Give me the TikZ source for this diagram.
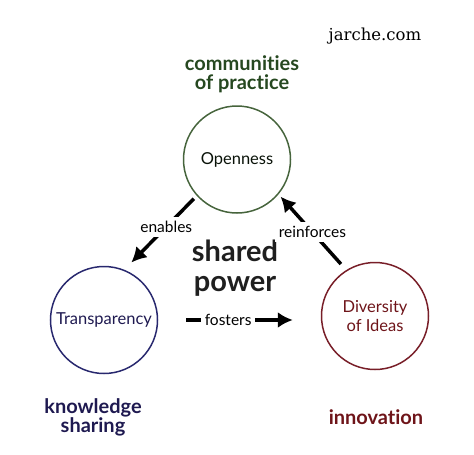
\documentclass[tikz,border=0pt]{standalone}
\usepackage{fontspec}
\setmainfont{Lato}[Ligatures={NoCommon}]
\newfontfamily\webfont{DejaVu Serif}
\usetikzlibrary{arrows.meta}
\definecolor{cpgreen}{RGB}{38,72,32}
\definecolor{ksnavy}{RGB}{30,25,80}
\definecolor{invred}{RGB}{110,20,25}
\definecolor{ringgreen}{RGB}{70,100,60}
\definecolor{ringnavy}{RGB}{40,40,110}
\definecolor{ringred}{RGB}{120,30,40}
\tikzset{
  ring/.style={circle, draw, line width=1.5pt, minimum size=107pt, inner sep=0pt, align=center, font=\fontsize{16.5}{19}\selectfont},
  tag/.style={align=center, font=\fontsize{20}{19}\bfseries\selectfont},
  push/.style={line width=3.5pt, -{Latex[length=15pt,width=16pt]}},
  verb/.style={fill=white, inner sep=4pt, font=\fontsize{15.5}{17}\selectfont, text=black}
}
\begin{document}
\begin{tikzpicture}[x=1pt,y=-1pt]
    \useasboundingbox (0,0) rectangle (474,455);
    \node[ring, draw=ringgreen, text=black!75!cpgreen] (op) at (237,159.5) {Openness};
    \node[ring, draw=ringnavy, text=ksnavy] (tr) at (104,320) {Transparency};
    \node[ring, draw=ringred, text=invred] (dv) at (375,316) {Diversity\\of Ideas};
    \node[tag, text=cpgreen] (cop) at (242,74) {communities\\of practice};
    \node[tag, text=ksnavy] (ks) at (93,417.5) {knowledge\\sharing};
    \node[tag, text=invred] (inv) at (376,417) {innovation};
    \node[align=center, text=black!88, font=\fontsize{29}{30}\bfseries\selectfont] (sp) at (235,268) {shared\\power};
    \node[font=\fontsize{16.5}{19}\webfont\selectfont] (web) at (375,36) {jarche.com};
    \path%
      (op.222) edge [push, shorten <=4pt, shorten >=10pt] node [verb, pos=.42] {enables} (tr.68)
      (dv.122) edge [push, shorten <=8pt, shorten >=3pt] node [verb, pos=.5] {reinforces} (op.320)
      (tr.east) edge [push, shorten <=28pt, shorten >=28pt] node [verb, pos=.43] {fosters} (dv.west |- tr.east);
\end{tikzpicture}
\end{document}
